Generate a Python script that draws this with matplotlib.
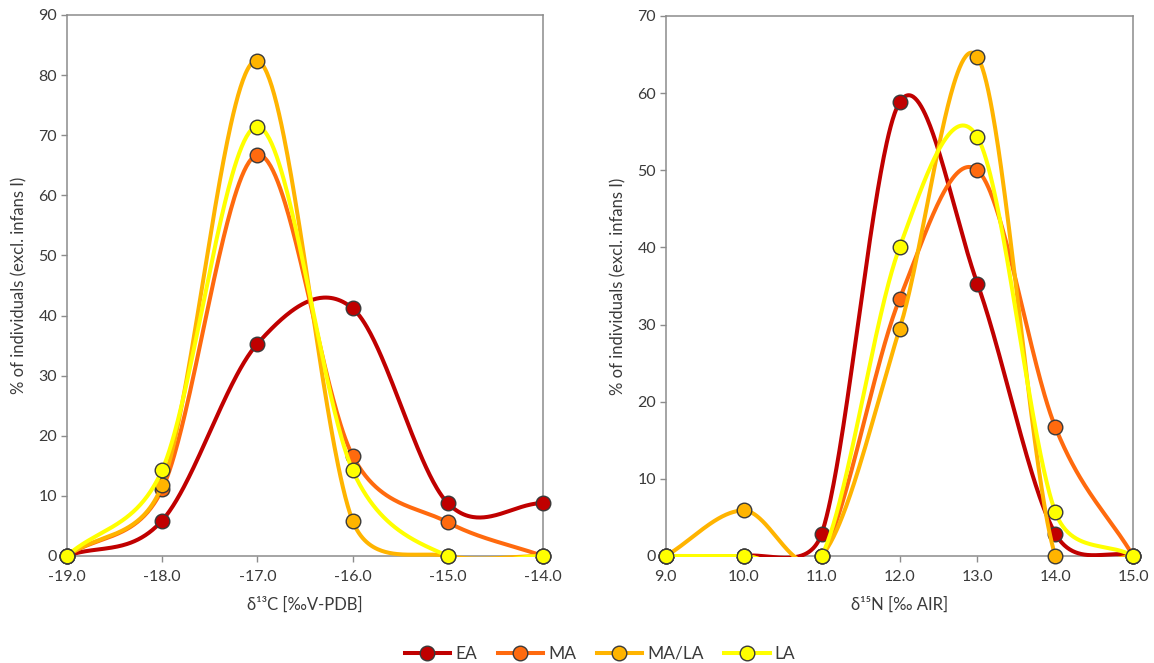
import numpy as np
import matplotlib
matplotlib.use("Agg")
import matplotlib.pyplot as plt
from matplotlib.lines import Line2D
from matplotlib.patches import Rectangle

plt.rcParams['font.family'] = ['Lato', 'DejaVu Sans']

# ---- data ----
series_names = ["EA", "MA", "MA/LA", "LA"]
colors = ["#C00000", "#FF6A0E", "#FFB400", "#FFFF00"]

c13_x = [-19.0, -18.0, -17.0, -16.0, -15.0, -14.0]
c13_EA = [0.0, 5.9, 35.3, 41.2, 8.8, 8.8]
c13_MA = [0.0, 11.1, 66.7, 16.7, 5.6, 0.0]
c13_MALA = [0.0, 11.8, 82.4, 5.9, 0.0, 0.0]
c13_LA = [0.0, 14.3, 71.4, 14.3, 0.0, 0.0]

n15_x = [9.0, 10.0, 11.0, 12.0, 13.0, 14.0, 15.0]
n15_EA = [0.0, 0.0, 2.9, 58.8, 35.3, 2.9, 0.0]
n15_MA = [0.0, 0.0, 0.0, 33.3, 50.0, 16.7, 0.0]
n15_MALA = [0.0, 5.9, 0.0, 29.4, 64.7, 0.0, 0.0]
n15_LA = [0.0, 0.0, 0.0, 40.0, 54.3, 5.7, 0.0]

c13_yticks = list(range(0, 91, 10))
n15_yticks = list(range(0, 71, 10))
c13_xlabel = "δ¹³C [‰V-PDB]"
n15_xlabel = "δ¹⁵N [‰ AIR]"
ylabel = "% of individuals (excl. infans I)"


def excel_smooth(ax, x, y, n=80):
    """Excel-like smoothed line (Bezier, control points clamped), computed in pixel space."""
    pts = ax.transData.transform(np.column_stack([x, y]))
    m = len(pts)
    out = []
    for i in range(m - 1):
        P1 = pts[i]
        P2 = pts[i + 1]
        P0 = pts[i - 1] if i > 0 else pts[i]
        P3 = pts[i + 2] if i + 2 < m else pts[i + 1]
        d12 = np.linalg.norm(P2 - P1)
        d02 = np.linalg.norm(P2 - P0)
        d13 = np.linalg.norm(P3 - P1)
        if i == 0:
            f0 = 1 / 3
        elif d02 / 6 < d12 / 2:
            f0 = 1 / 6
        else:
            f0 = d12 / 2 / d02
        if i + 2 >= m:
            f1 = 1 / 3
        elif d13 / 6 < d12 / 2:
            f1 = 1 / 6
        else:
            f1 = d12 / 2 / d13
        c1 = P1 + f0 * (P2 - P0)
        c2 = P2 - f1 * (P3 - P1)
        t = np.linspace(0, 1, n)[:, None]
        seg = ((1 - t) ** 3) * P1 + 3 * ((1 - t) ** 2) * t * c1 + 3 * (1 - t) * t ** 2 * c2 + t ** 3 * P2
        if i > 0:
            seg = seg[1:]
        out.append(seg)
    out = np.vstack(out)
    d = ax.transData.inverted().transform(out)
    return d[:, 0], d[:, 1]


fig = plt.figure(figsize=(11.54, 6.63), dpi=100)
ax1 = fig.add_axes([0.058, 0.1614, 0.4125, 0.8160])
ax2 = fig.add_axes([0.577, 0.1614, 0.4050, 0.8145])

tick_color = "#3A3A3A"
spine_color = "#8C8C8C"


def draw(ax, xs, data, xlim, yticks, xlabel):
    ymax = yticks[-1]
    ax.set_xlim(*xlim)
    ax.set_ylim(0, ymax)
    clip = Rectangle((0, -0.0022), 1, 1.005, transform=ax.transAxes)
    for k, (vals, col) in enumerate(zip(data, colors)):
        sx, sy = excel_smooth(ax, xs, vals)
        ln, = ax.plot(sx, sy, color=col, lw=2.9, solid_capstyle='butt', zorder=3 + k * 2)
        ln.set_clip_path(clip)
        ax.plot(xs, vals, linestyle='none', marker='o', markersize=10.5,
                markerfacecolor=col, markeredgecolor='#3A3A3A', markeredgewidth=1.0,
                clip_on=False, zorder=4 + k * 2)
    ax.set_yticks(yticks)
    ax.set_xticks(xs)
    ax.set_xticklabels([f"{v:.1f}" for v in xs])
    for s in ax.spines.values():
        s.set_color(spine_color)
        s.set_linewidth(1.1)
    ax.tick_params(axis='both', direction='out', length=4, width=1, color=spine_color,
                   labelcolor=tick_color, labelsize=11.5, pad=3)
    ax.tick_params(axis='x', pad=6)
    ax.set_xlabel(xlabel, fontsize=12, color=tick_color, labelpad=9)
    ax.set_ylabel(ylabel, fontsize=12, color=tick_color, labelpad=8)


draw(ax1, c13_x, [c13_EA, c13_MA, c13_MALA, c13_LA], (-19, -14), c13_yticks, c13_xlabel)
draw(ax2, n15_x, [n15_EA, n15_MA, n15_MALA, n15_LA], (9, 15), n15_yticks, n15_xlabel)

handles = [Line2D([0], [0], color=c, lw=2.9, marker='o', markersize=10.5,
                  markerfacecolor=c, markeredgecolor='#3A3A3A', markeredgewidth=1.0)
           for c in colors]
fig.legend(handles, series_names, loc='center', bbox_to_anchor=(0.52, 0.014), ncol=4,
           frameon=False, fontsize=12.5, handlelength=2.6, columnspacing=1.2,
           handletextpad=0.3, labelcolor=tick_color)

fig.savefig("out.png", dpi=100)
